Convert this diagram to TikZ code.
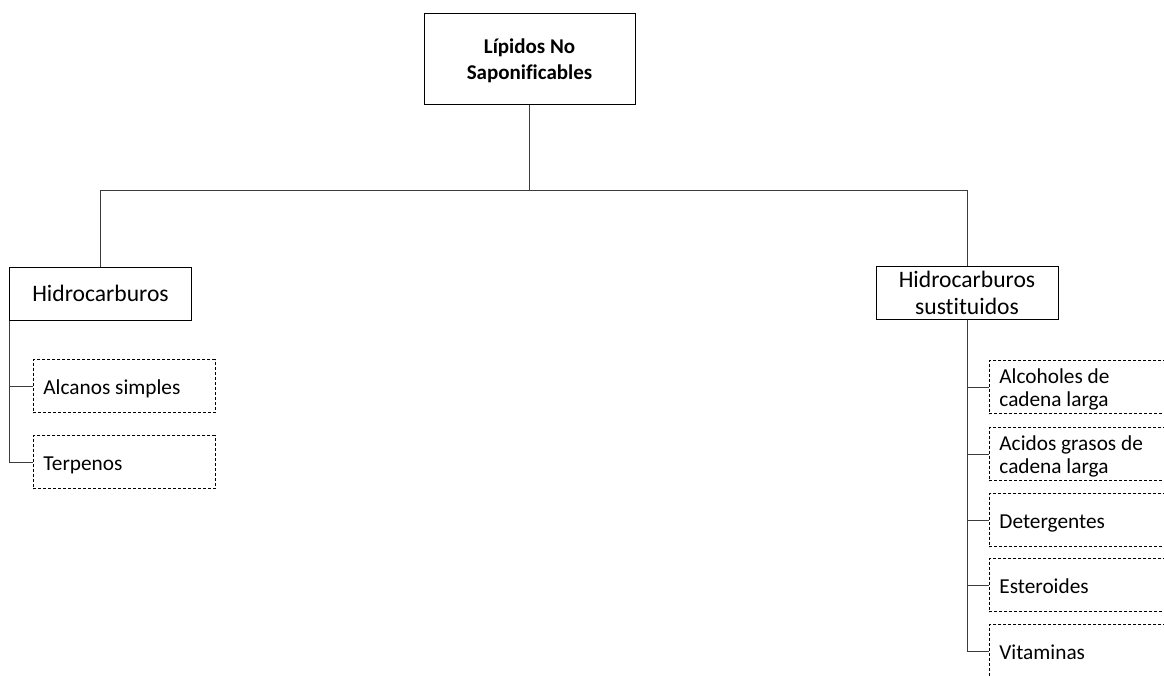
\documentclass[tikz,border=0pt]{standalone}
\usepackage{fontspec}
\setmainfont{Carlito}[Ligatures=NoCommon]
\usepackage{tikz}
\usetikzlibrary{positioning}
\definecolor{linegray}{RGB}{60,60,60}

\begin{document}
\begin{tikzpicture}[x=1pt,y=-1pt,
  rootbox/.style={draw, line width=1pt, minimum width=211pt, minimum height=91pt, align=center,
    text height=46pt, text depth=5pt, font=\fontsize{21}{25.5}\selectfont\bfseries},
  catbox/.style={draw, line width=1pt, minimum width=182pt, minimum height=53pt, align=center,
    inner sep=2pt, font=\fontsize{23.6}{27}\selectfont},
  itembox/.style={draw, line width=0.8pt, dash pattern=on 3pt off 2pt, text width=162pt,
    inner xsep=10pt, inner ysep=0pt, minimum height=53pt, align=flush left, anchor=west,
    text height=21pt, text depth=5pt, font=\fontsize{21.3}{23}\selectfont},
  twolines/.style={text depth=28pt},
  link/.style={linegray, line width=1pt}]
  \useasboundingbox (0,0) rectangle (1164,675);
  \clip (0,0) rectangle (1164,675);

  % root and the two groups
  \node[rootbox] (root) at (529.5,58.5) {Lípidos No\\Saponificables};
  \node[catbox] (hc) at (100.5,293.5) {Hidrocarburos};
  \node[catbox] (hcs) at (967,292.5) {Hidrocarburos\\sustituidos};

  \draw[link] (root.south) -- ++(0,86) coordinate (split);
  \draw[link] (split) -| (hc.north);
  \draw[link] (split) -| (hcs.north);

  % Hidrocarburos
  \node[itembox] (alcanos) at (33,386) {Alcanos simples};
  \node[itembox] (terpenos) at (33,462) {Terpenos};
  \draw[link] (hc.south west) |- (alcanos.west);
  \draw[link] (hc.south west) |- (terpenos.west);

  % Hidrocarburos sustituidos
  \node[itembox, twolines] (alcoholes) at (989,387) {Alcoholes de\\cadena larga};
  \node[itembox, twolines] (acidos) at (989,454) {Acidos grasos de\\cadena larga};
  \node[itembox] (detergentes) at (989,520) {Detergentes};
  \node[itembox] (esteroides) at (989,585) {Esteroides};
  \node[itembox] (vitaminas) at (989,651) {Vitaminas};
  \foreach \item in {alcoholes,acidos,detergentes,esteroides,vitaminas}
    \draw[link] (hcs.south) |- (\item.west);
\end{tikzpicture}
\end{document}
